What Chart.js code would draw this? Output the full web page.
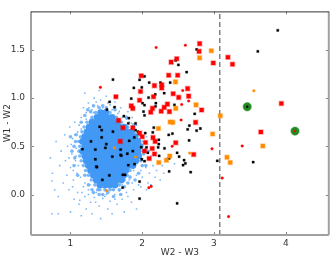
<!DOCTYPE html>
<html>
<head>
<meta charset="utf-8">
<script src="https://cdn.jsdelivr.net/npm/chart.js@4.4.1/dist/chart.umd.min.js"></script>
<style>
  html, body { margin: 0; padding: 0; background: #fff; }
  #chart { display: block; }
</style>
</head>
<body>
<canvas id="chart" width="334" height="262"></canvas>
<script>
const xTicks = [1, 2, 3, 4];
const yTicks = [0.0, 0.5, 1.0, 1.5];
const xRange = [0.45, 4.6];
const yRange = [-0.42, 1.9];
const cutX = 3.08;

// solid middle of the blue cloud, one row per W1-W2 level: [y, [x, x, ...]]
const cloudRows = [
  [0.85, [1.42, 1.49]],
  [0.80, [1.37, 1.44, 1.51, 1.58]],
  [0.75, [1.30, 1.37, 1.44, 1.51, 1.58, 1.65]],
  [0.70, [1.26, 1.33, 1.40, 1.47, 1.54, 1.61, 1.68, 1.75]],
  [0.65, [1.23, 1.30, 1.37, 1.44, 1.51, 1.58, 1.65, 1.72, 1.79, 1.85]],
  [0.60, [1.20, 1.27, 1.34, 1.41, 1.48, 1.55, 1.62, 1.69, 1.76, 1.83, 1.90]],
  [0.55, [1.17, 1.24, 1.31, 1.38, 1.45, 1.52, 1.59, 1.66, 1.73, 1.80, 1.87, 1.94]],
  [0.50, [1.20, 1.27, 1.34, 1.41, 1.48, 1.55, 1.62, 1.69, 1.76, 1.83, 1.90, 1.97]],
  [0.45, [1.17, 1.24, 1.31, 1.38, 1.45, 1.52, 1.59, 1.66, 1.73, 1.80, 1.87, 1.94]],
  [0.40, [1.20, 1.27, 1.34, 1.41, 1.48, 1.55, 1.62, 1.69, 1.76, 1.83, 1.88, 1.95]],
  [0.35, [1.22, 1.29, 1.36, 1.43, 1.50, 1.57, 1.64, 1.71, 1.78, 1.85, 1.91]],
  [0.30, [1.25, 1.32, 1.39, 1.46, 1.53, 1.60, 1.67, 1.74, 1.81, 1.87]],
  [0.25, [1.28, 1.35, 1.42, 1.49, 1.56, 1.63, 1.70, 1.77]],
  [0.20, [1.32, 1.39, 1.46, 1.53, 1.60, 1.67, 1.74]],
  [0.15, [1.36, 1.43, 1.50, 1.57, 1.64, 1.71]],
  [0.10, [1.41, 1.48, 1.55, 1.62]]
];

// softer band just outside the solid middle
const cloudMid = [
  [1.35, 0.85], [1.55, 0.85], [1.30, 0.80], [1.64, 0.80], [1.23, 0.75], [1.71, 0.75], [1.19, 0.70],
  [1.80, 0.70], [1.16, 0.65], [1.14, 0.60], [1.12, 0.55], [1.13, 0.50], [1.12, 0.45], [1.13, 0.40],
  [1.15, 0.35], [1.18, 0.30], [1.21, 0.25], [1.83, 0.25], [1.25, 0.20], [1.79, 0.20],
  [1.29, 0.15], [1.75, 0.15], [1.34, 0.10], [1.68, 0.10], [1.41, 0.05], [1.48, 0.05], [1.55, 0.05],
  [1.60, 0.05], [1.05, 0.50], [1.06, 0.38], [1.08, 0.62], [1.24, 0.88], [1.45, 0.92], [1.62, 0.88],
  [1.78, 0.80], [2.02, 0.42], [2.00, 0.30], [1.90, 0.15], [1.45, 0.00], [1.30, 0.05], [1.20, 0.20], [1.70, 0.00],
  [1.15, 0.75], [1.20, 0.82], [1.28, 0.86], [1.32, 0.92], [1.40, 0.90], [1.50, 0.90],
  [1.25, 0.10], [1.32, 0.02], [1.40, 0.00], [1.52, 0.02], [1.60, -0.02], [1.68, 0.05], [1.75, 0.08],
  [1.80, 0.12], [1.38, 0.05], [1.95, 0.62], [1.98, 0.35], [1.95, 0.22], [1.88, 0.72], [1.83, 0.18],
  [2.05, 0.30], [2.08, 0.45], [1.05, 0.30], [1.07, 0.55], [1.02, 0.45], [1.10, 0.20], [1.00, 0.60]
];

// thin blue points round the edge of the cloud
const cloudSparse = [
  [0.72, 0.38], [0.75, 0.22], [0.78, 0.05], [0.80, 0.55], [0.83, -0.02], [0.85, 0.30], [0.87, 0.45],
  [0.90, 0.12], [0.92, 0.62], [0.93, 0.35], [0.95, 0.20], [0.96, 0.50], [0.98, 0.05], [0.99, 0.70],
  [1.00, 0.28], [1.02, 0.42], [1.03, 0.58], [1.04, 0.15], [1.05, -0.05], [1.06, 0.75], [1.07, 0.35],
  [1.08, 0.48], [1.09, 0.22], [1.10, 0.65], [1.10, 0.02], [0.74, 0.14],
  [0.74, -0.20], [0.83, -0.20], [1.00, -0.18], [1.12, -0.10], [1.15, -0.22], [1.20, -0.02], [1.22, -0.15],
  [1.25, 0.05], [1.28, -0.08], [1.30, -0.20], [1.33, -0.03], [1.36, 0.02], [1.40, -0.12], [1.42, -0.25],
  [1.45, -0.04], [1.50, 0.00], [1.52, -0.15], [1.55, -0.07], [1.58, -0.20], [1.62, 0.00], [1.65, -0.10],
  [1.68, 0.04], [1.72, -0.05], [1.75, -0.18], [1.78, 0.02], [1.85, -0.08], [1.88, 0.05], [1.92, -0.15],
  [1.18, 0.08], [1.27, 0.10], [1.13, -0.06],
  [1.95, 0.10], [1.98, 0.25], [2.00, 0.18], [2.02, 0.35], [2.05, 0.28], [2.08, 0.12], [2.10, 0.22],
  [2.12, 0.40], [2.15, 0.30], [2.18, 0.18], [2.20, 0.25], [2.25, 0.15], [2.28, 0.30], [2.30, 0.22],
  [1.92, 0.20], [1.96, 0.40], [2.00, 0.55], [2.04, 0.48], [1.98, 0.65], [2.06, 0.05], [2.35, 0.38], [2.45, 0.32],
  [1.15, 0.80], [1.18, 0.90], [1.22, 0.85], [1.25, 0.95], [1.30, 0.88], [1.33, 1.00], [1.38, 0.92],
  [1.42, 0.98], [1.45, 0.90], [1.50, 1.02], [1.55, 0.93], [1.58, 0.88], [1.62, 0.96], [1.66, 0.84],
  [1.70, 0.90], [1.72, 0.80], [1.78, 0.78], [1.80, 0.86], [1.85, 0.74], [1.88, 0.68], [1.92, 0.72],
  [1.20, 1.05], [1.28, 0.78], [1.12, 0.72], [1.40, 1.08],
  [1.08, 0.40], [1.10, 0.55], [1.11, 0.30], [1.14, 0.18], [1.20, 0.12], [1.25, 0.00], [1.45, 0.08],
  [1.58, 0.05], [1.72, 0.10], [1.82, 0.15], [1.88, 0.25], [1.93, 0.32], [2.00, 0.45], [1.95, 0.58],
  [1.90, 0.64], [1.82, 0.75], [1.75, 0.82], [1.60, 0.90], [1.48, 0.88], [1.32, 0.85], [1.22, 0.78], [1.15, 0.68],
  [0.98, 0.38], [1.01, 0.52], [1.04, 0.25], [1.06, 0.62], [1.03, 0.08], [1.16, 0.02], [1.35, -0.08],
  [1.48, -0.02], [1.62, -0.05], [1.80, -0.02], [1.86, 0.12], [1.98, 0.08], [2.08, 0.38], [2.06, 0.60],
  [2.12, 0.10], [1.26, 0.90], [1.36, 0.96], [1.52, 0.95], [1.68, 0.86], [1.86, 0.80]
];

const blackPts = [
  [3.889, 1.704], [3.611, 1.485], [3.046, 0.350], [3.546, 0.336],
  [2.758, 1.505], [2.467, 1.391], [2.504, 1.344], [2.619, 1.270], [2.389, 1.162], [2.449, 0.930],
  [2.731, 0.837], [2.657, 0.716], [2.810, 0.685], [2.633, 0.675], [2.758, 0.662], [2.421, 0.632],
  [2.653, 0.561], [2.486, 0.433], [2.375, 0.376], [2.514, 0.393], [2.583, 0.356], [2.601, 0.323],
  [2.569, 0.305], [2.375, 0.239], [2.675, 0.232], [2.486, -0.091],
  [1.583, 0.393], [1.699, 0.410], [1.792, 0.423], [1.994, 0.366], [2.032, 0.346], [2.236, 0.400],
  [1.806, 0.305], [1.893, 0.316], [1.369, 0.285], [1.542, 0.199], [1.730, 0.205], [1.760, 0.205],
  [1.444, 0.151], [1.963, 0.134], [1.726, 0.071], [1.963, -0.043],
  [1.167, 0.471], [1.361, 0.289], [1.347, 0.366], [1.435, 0.592], [1.286, 0.551], [1.699, 0.467],
  [1.708, 0.403], [1.889, 0.592], [1.819, 0.557], [2.060, 0.490], [2.222, 0.490], [2.310, 0.480],
  [2.231, 0.568], [2.032, 0.927], [2.185, 0.914], [2.018, 0.860], [2.032, 0.820], [1.546, 0.961],
  [1.615, 0.907], [1.744, 0.813], [1.814, 0.793], [1.806, 0.739], [1.907, 0.739], [1.907, 0.668],
  [1.939, 0.652], [2.042, 0.638], [2.147, 0.645], [1.592, 0.652], [1.407, 0.703], [1.500, 0.524],
  [1.869, 0.451], [1.986, 0.491], [1.486, 0.484], [2.078, 0.433],
  [2.032, 1.227], [1.963, 1.190], [1.592, 1.193], [1.883, 1.106], [1.994, 1.112], [2.097, 1.162],
  [2.088, 1.005], [1.847, 0.995], [2.181, 1.038], [2.306, 1.051], [2.004, 0.948], [1.509, 0.880],
  [2.190, 0.948], [2.254, 1.162], [2.161, 0.693], [2.369, 0.618], [1.435, 0.668], [1.347, 0.467], [2.231, 0.524]
];

const redBig = [
  [3.194, 1.424], [3.258, 1.351], [3.939, 0.944], [3.653, 0.648],
  [2.800, 1.566], [2.792, 1.485], [2.990, 1.364], [2.481, 1.408], [2.403, 1.374], [2.369, 1.237],
  [2.494, 1.237], [2.633, 1.099], [2.431, 1.045], [2.508, 1.008], [2.647, 1.021], [2.351, 0.938],
  [2.828, 0.877], [2.379, 0.860], [2.744, 0.749], [2.467, 0.537], [2.717, 0.416],
  [2.097, 0.373], [2.171, 0.420], [1.694, 0.551], [2.000, 0.600], [2.150, 0.590], [2.045, 0.540],
  [2.180, 0.551], [2.032, 0.451], [2.139, 0.477], [1.963, 0.978], [1.847, 0.920], [1.869, 0.894],
  [2.143, 0.894], [2.119, 0.854], [1.671, 0.769], [1.731, 0.693], [1.869, 0.693], [1.963, 0.638],
  [1.986, 1.233], [2.170, 1.130], [1.976, 1.069], [2.157, 1.015], [1.633, 1.015],
  [2.272, 1.139], [2.272, 1.106], [2.264, 0.864], [2.306, 0.904]
];

const redSmall = [
  [3.393, 0.504], [2.972, 0.474], [3.115, 0.171], [3.203, -0.229], [2.601, 1.549], [2.564, 1.079],
  [2.647, 0.971], [2.542, 0.773], [2.417, 0.501], [2.092, 0.071], [2.125, 0.084], [2.194, 1.525],
  [1.417, 1.112], [2.550, 0.934]
];

const orangeBig = [
  [3.088, 0.817], [3.681, 0.504], [3.181, 0.386], [3.226, 0.333], [2.963, 1.492], [2.800, 1.418],
  [2.463, 1.169], [2.750, 0.930], [2.467, 0.894], [2.389, 0.753], [2.425, 0.749], [2.981, 0.628],
  [2.383, 0.400], [2.337, 0.356], [2.231, 0.333], [2.226, 0.685]
];

const orangeSmall = [[3.556, 1.076], [2.661, 0.430], [1.907, 0.390], [1.504, 0.040], [1.611, 0.484]];

const greenRing = [[3.463, 0.910], [4.129, 0.658]];
const greenCoreBlack = [[3.463, 0.910]];
const greenCoreRed = [[4.129, 0.658]];

const cloudCore = [];
cloudRows.forEach(([y, xs]) => xs.forEach(x => cloudCore.push([x, y])));

function pts(pairs, style, radius, fill, edge, order, edgeWidth = 1) {
  return {
    data: pairs.map(([x, y]) => ({ x, y })),
    pointStyle: style,
    pointRadius: radius,
    pointHoverRadius: radius,
    backgroundColor: fill,
    borderColor: edge || fill,
    borderWidth: edge ? edgeWidth : 0,
    order
  };
}

// inner ticks on all four sides and the plot frame
const frame = {
  id: 'frame',
  afterDatasetsDraw(chart) {
    const { ctx, chartArea: a, scales: { x, y } } = chart;
    const line = (x1, y1, x2, y2) => { ctx.beginPath(); ctx.moveTo(x1, y1); ctx.lineTo(x2, y2); ctx.stroke(); };
    ctx.save();
    ctx.strokeStyle = '#888';
    ctx.lineWidth = 1;
    xTicks.forEach(v => {
      const px = Math.round(x.getPixelForValue(v)) + 0.5;
      line(px, a.top, px, a.top + 3);
      line(px, a.bottom, px, a.bottom - 3);
    });
    yTicks.forEach(v => {
      const py = Math.round(y.getPixelForValue(v)) + 0.5;
      line(a.left, py, a.left + 3, py);
      line(a.right, py, a.right - 3, py);
    });
    ctx.strokeStyle = '#a0a0a0';
    ctx.lineWidth = 2;
    line(a.left, a.top, a.left, a.bottom);
    line(a.left, a.bottom, a.right, a.bottom);
    line(a.right, a.top, a.right, a.bottom);
    ctx.strokeStyle = '#333';
    ctx.lineWidth = 1;
    line(a.left, a.top + 0.5, a.right, a.top + 0.5);
    ctx.restore();
  }
};

const tickFont = { family: 'DejaVu Sans', size: 9 };

new Chart(document.getElementById('chart'), {
  type: 'scatter',
  data: {
    datasets: [
      pts(cloudCore, 'circle', 3.4, '#4299f5', null, 20),
      pts(cloudMid, 'circle', 1.8, 'rgba(66,153,245,0.7)', null, 19),
      pts(cloudSparse, 'rect', 1.1, 'rgba(90,165,250,0.8)', null, 18),
      {
        data: [{ x: cutX, y: yRange[0] }, { x: cutX, y: yRange[1] }],
        showLine: true,
        borderColor: '#808080',
        borderWidth: 1.5,
        borderDash: [5, 3],
        pointRadius: 0,
        order: 15
      },
      pts(greenRing, 'circle', 4.2, '#238a23', 'rgba(60,160,60,0.5)', 6),
      pts(blackPts, 'rect', 1.6, '#000', 'rgba(0,0,0,0.3)', 5),
      pts(orangeSmall, 'circle', 1.3, '#ff8c00', 'rgba(255,140,0,0.35)', 4),
      pts(orangeBig, 'rect', 2.9, '#ff8c00', 'rgba(255,140,0,0.35)', 3, 1.5),
      pts(redSmall, 'circle', 1.3, '#ff0000', 'rgba(255,0,0,0.35)', 2),
      pts(redBig, 'rect', 2.9, '#ff0000', 'rgba(255,0,0,0.35)', 1, 1.5),
      pts(greenCoreBlack, 'circle', 1.2, '#000', null, 0),
      pts(greenCoreRed, 'circle', 1.2, '#ff0000', null, 0)
    ]
  },
  options: {
    responsive: false,
    animation: false,
    devicePixelRatio: 1,
    layout: { padding: { top: 4, right: 5, left: 0, bottom: 0 } },
    plugins: { legend: { display: false }, tooltip: { enabled: false } },
    scales: {
      x: {
        type: 'linear',
        min: xRange[0],
        max: xRange[1],
        grid: { display: false, drawTicks: false },
        border: { display: false },
        afterBuildTicks: s => { s.ticks = xTicks.map(v => ({ value: v })); },
        afterFit: s => { s.height = 27; },
        ticks: { font: tickFont, color: '#333', padding: 3, callback: v => String(v) },
        title: { display: true, text: 'W2 - W3', font: tickFont, color: '#333', padding: { top: 0, bottom: 4 } }
      },
      y: {
        type: 'linear',
        min: yRange[0],
        max: yRange[1],
        grid: { display: false, drawTicks: false },
        border: { display: false },
        afterBuildTicks: s => { s.ticks = yTicks.map(v => ({ value: v })); },
        afterFit: s => { s.width = 31; },
        ticks: { font: tickFont, color: '#333', padding: 6, callback: v => Number(v).toFixed(1) },
        title: { display: true, text: 'W1 - W2', font: tickFont, color: '#333', padding: { top: 2, bottom: 0 } }
      }
    }
  },
  plugins: [frame]
});
</script>
</body>
</html>
